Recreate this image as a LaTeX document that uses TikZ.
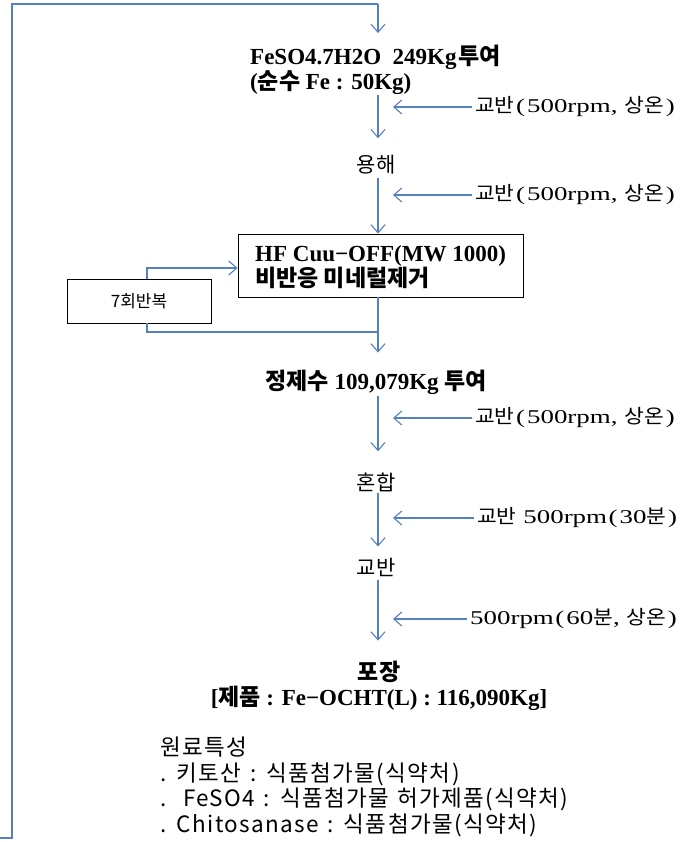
\documentclass[tikz,border=0pt]{standalone}
\usepackage{fontspec}
\setmainfont{Liberation Serif}
\newfontfamily\kr{Noto Sans CJK KR}
\newfontfamily\notefont[LetterSpace=6,WordSpace=1.3]{Noto Sans CJK KR}
\newfontfamily\lbl[FakeStretch=1.38]{Liberation Serif}
\newfontfamily\lblkr[FakeStretch=1.1]{Noto Sans CJK KR}
\newcommand{\K}[1]{{\kr #1}}
\newcommand{\LK}[1]{{\lblkr #1}}
\newcommand{\LP}{\kern1.5pt(\kern2pt}
\newcommand{\RP}{\kern2pt)}
\usetikzlibrary{arrows.meta}
\definecolor{flow}{RGB}{84,130,190}
\begin{document}
\begin{tikzpicture}[x=1pt,y=-1pt,
  flowline/.style={draw=flow, line width=1.1pt},
  arr/.style={flowline, -{Straight Barb[length=8pt,width=14pt]}},
  title/.style={font=\bfseries\fontsize{23}{22}\selectfont, inner sep=0pt, align=center},
  plain/.style={font=\kr\fontsize{21}{24}\selectfont, inner sep=0pt},
  sidelbl/.style={font=\lbl\fontsize{19.5}{22}\selectfont, inner sep=0pt, anchor=west},
  boxed/.style={draw=black, line width=0.9pt, inner sep=0pt},
  note/.style={font=\notefont\fontsize{22.5}{25.5}\selectfont, inner sep=0pt, align=left, anchor=north west}]
\useasboundingbox (0,0) rectangle (686,842);
\coordinate (trunk) at (378,0);
\coordinate (corner) at (0,838);

% main column
\node[title, anchor=west, align=left] (feso) at (250,70)
  {FeSO4.7H2O\enspace 249Kg\kern2pt\K{투여}\\(\K{순수} Fe : 50Kg)};
\node[plain] (melt) at (376,165) {용해};
\node[boxed, minimum width=285pt, minimum height=63pt] (hf) at (380.5,265.5) {};
\node[title, anchor=west, align=left, font=\bfseries\fontsize{23}{24}\selectfont] (hftxt) at (255,267)
  {HF Cuu−OFF(MW 1000)\\\K{비반응 미네럴제거}};
\node[boxed, minimum width=144pt, minimum height=44pt, font=\kr\fontsize{17}{20}\selectfont] (rep) at (139,301) {7회반복};
\node[title] (water) at (376,382) {\K{정제수} 109,079Kg \K{투여}};
\node[plain] (mix) at (376,482) {혼합};
\node[plain] (stir) at (376,567) {교반};
\node[title, font=\bfseries\fontsize{23}{25}\selectfont] (pack) at (379,685.5) {\K{포장}\\{}[\K{제품} : Fe−OCHT(L) : 116,090Kg]};

% side labels
\node[sidelbl] (s1) at (475,107) {\LK{교반}\LP500rpm, \LK{상온}\RP};
\node[sidelbl] (s2) at (475,195) {\LK{교반}\LP500rpm, \LK{상온}\RP};
\node[sidelbl] (s3) at (475,418) {\LK{교반}\LP500rpm, \LK{상온}\RP};
\node[sidelbl] (s4) at (477,518) {\LK{교반} 500rpm\LP30\LK{분}\RP};
\node[sidelbl] (s5) at (470,619) {500rpm\LP60\LK{분}, \LK{상온}\RP};

% notes
\node[note] (notes) at (160,737)
  {원료특성\\. 키토산 : 식품첨가물(식약처)\\.\ \ FeSO4 : 식품첨가물 허가제품(식약처)\\. Chitosanase : 식품첨가물(식약처)};

% feedback line
\draw[flowline] (corner) -- ++(12,0) -- (12,4) -- (trunk |- 0,4);
\draw[arr, shorten >=12pt] (trunk |- 0,4) -- (feso.north -| trunk);

% vertical arrows
\draw[arr, shorten >=17pt] (feso.south -| trunk) -- (melt.north -| trunk);
\draw[arr, shorten <=3pt] (melt.south -| trunk) -- (hf.north -| trunk);
\draw[arr, shorten >=17pt] (hf.south -| trunk) -- (water.north -| trunk);
\draw[arr, shorten <=2pt, shorten >=21pt] (water.south -| trunk) -- (mix.north -| trunk);
\draw[arr, shorten <=1pt, shorten >=11pt] (mix.south -| trunk) -- (stir.north -| trunk);
\draw[arr, shorten <=4pt, shorten >=20pt] (stir.south -| trunk) -- (pack.north -| trunk);

% repeat loop
\draw[flowline] (rep.south -| 147,0) |- (trunk |- 0,332);
\draw[arr] (rep.north -| 147,0) |- (hf.west |- 0,268);

% side arrows
\foreach \s in {s1,s2,s3,s4,s5}
  \draw[arr, shorten <=3pt] (\s.west) -- ([xshift=15pt]\s.west -| trunk);
\end{tikzpicture}
\end{document}
